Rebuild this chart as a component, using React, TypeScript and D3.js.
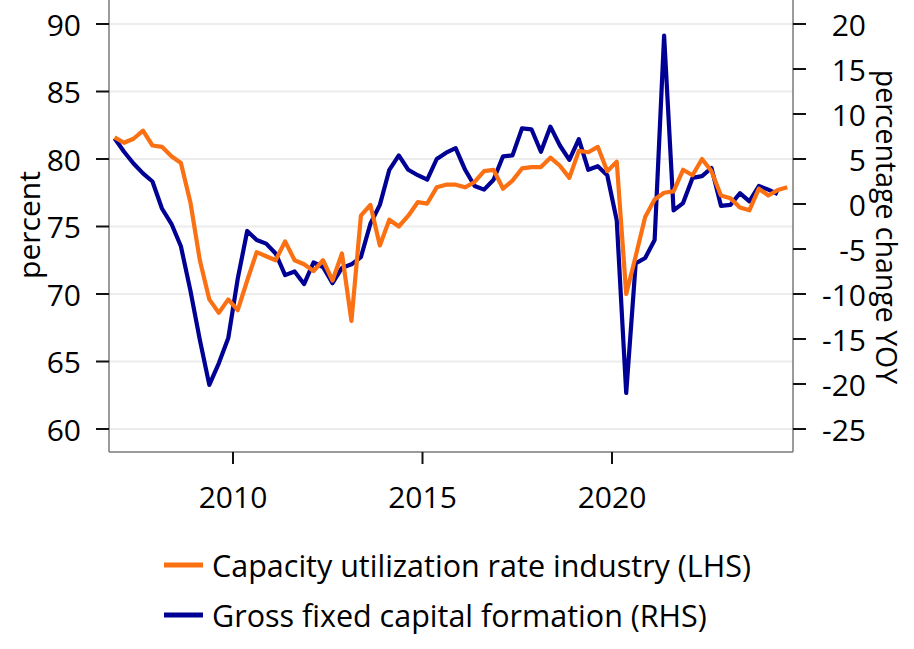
import React from 'react';
import * as d3 from 'd3';

// Quarterly categories 2006Q4 .. 2024Q3
const quarters: string[] = (() => {
  const q: string[] = [];
  let y = 2006;
  let k = 4;
  while (q.length < 72) {
    q.push(`${y}Q${k}`);
    k++;
    if (k > 4) { k = 1; y++; }
  }
  return q;
})();

// Capacity utilization rate industry (LHS, percent)
const capacityUtilization: number[] = [
  81.6, 81.2, 81.5, 82.1, 81.0, 80.9, 80.2, 79.7, 76.8, 72.5,
  69.6, 68.6, 69.6, 68.8, 71.0, 73.1, 72.8, 72.5, 73.9, 72.5,
  72.2, 71.7, 72.5, 71.0, 73.0, 68.0, 75.8, 76.6, 73.6, 75.5,
  75.0, 75.8, 76.8, 76.7, 77.9, 78.1, 78.1, 77.9, 78.3, 79.1,
  79.2, 77.8, 78.4, 79.3, 79.4, 79.4, 80.1, 79.5, 78.6, 80.6,
  80.5, 80.9, 79.1, 79.8, 70.0, 72.8, 75.7, 77.0, 77.5, 77.6,
  79.2, 78.8, 80.0, 79.1, 77.3, 77.1, 76.4, 76.2, 77.8, 77.3,
  77.7, 77.9,
];

// Gross fixed capital formation (RHS, % change YOY)
const capitalFormation: number[] = [
  7.3, 5.8, 4.5, 3.4, 2.5, -0.5, -2.2, -4.7, -9.6, -15.1,
  -20.1, -17.7, -14.9, -8.3, -3.0, -4.0, -4.4, -5.5, -7.9, -7.5,
  -8.9, -6.5, -7.0, -8.8, -7.1, -6.7, -5.9, -2.2, -0.1, 3.8,
  5.4, 3.8, 3.2, 2.7, 5.0, 5.7, 6.2, 3.8, 2.0, 1.6,
  2.7, 5.3, 5.4, 8.4, 8.3, 5.8, 8.6, 6.5, 4.9, 7.2,
  3.8, 4.2, 3.2, -1.8, -21.0, -6.6, -6.0, -4.0, 18.7, -0.7,
  0.1, 2.9, 3.1, 4.0, -0.2, -0.1, 1.2, 0.3, 2.0, 1.6,
  1.1,
];

const leftTicks = [60, 65, 70, 75, 80, 85, 90];
const rightTicks = [-25, -20, -15, -10, -5, 0, 5, 10, 15, 20];
const xTicks = [2010, 2015, 2020];

const seriesNames = [
  'Capacity utilization rate industry (LHS)',
  'Gross fixed capital formation (RHS)',
];
const seriesColors = ['#fb7012', '#000094'];

const FONT = "'Open Sans', 'Noto Sans', sans-serif";

function quarterToYear(q: string): number {
  const y = +q.slice(0, 4);
  const k = +q.slice(5);
  return y + (k - 1) * 0.25 + 0.125;
}

export default function App() {
  const W = 914;
  const H = 649;
  const left = 109;
  const right = 793;
  const top = 0;
  const bottom = 452;

  const x = d3.scaleLinear().domain([2006.728, 2024.776]).range([left, right]);
  const yL = d3.scaleLinear().domain([60, 90]).range([429, 24]);
  const yR = d3.scaleLinear().domain([-25, 20]).range([429, 24]);

  const lineL = d3
    .line<number>()
    .x((_, i) => x(quarterToYear(quarters[i])))
    .y((d) => yL(d));
  const lineR = d3
    .line<number>()
    .x((_, i) => x(quarterToYear(quarters[i])))
    .y((d) => yR(d));

  const fs = 30;

  return (
    <svg
      width={W}
      height={H}
      style={{ position: 'absolute', left: 0, top: 0, background: '#fff' }}
      fontFamily={FONT}
    >
      <rect x={0} y={0} width={W} height={H} fill="#fff" />
      {leftTicks.map((t) => (
        <line key={'g' + t} x1={left} x2={right} y1={yL(t)} y2={yL(t)} stroke="#ececec" strokeWidth={2} />
      ))}

      <path d={lineR(capitalFormation) || ''} fill="none" stroke={seriesColors[1]} strokeWidth={4.2} strokeLinejoin="round" />
      <path d={lineL(capacityUtilization) || ''} fill="none" stroke={seriesColors[0]} strokeWidth={4.2} strokeLinejoin="round" />

      {/* axes */}
      <line x1={left} x2={left} y1={top} y2={bottom} stroke="#7a7a7a" strokeWidth={1.5} />
      <line x1={right} x2={right} y1={top} y2={bottom} stroke="#7a7a7a" strokeWidth={1.5} />
      <line x1={left} x2={right} y1={bottom} y2={bottom} stroke="#7a7a7a" strokeWidth={1.5} />

      {leftTicks.map((t) => (
        <g key={'l' + t}>
          <line x1={left - 13} x2={left} y1={yL(t)} y2={yL(t)} stroke="#111" strokeWidth={2} />
          <text x={81} y={yL(t)} textAnchor="end" dominantBaseline="central" fontSize={fs} fill="#000">
            {t}
          </text>
        </g>
      ))}
      {rightTicks.map((t) => (
        <g key={'r' + t}>
          <line x1={right} x2={right + 13} y1={yR(t)} y2={yR(t)} stroke="#111" strokeWidth={2} />
          <text x={866} y={yR(t)} textAnchor="end" dominantBaseline="central" fontSize={fs} fill="#000">
            {t}
          </text>
        </g>
      ))}
      {xTicks.map((t) => (
        <g key={'x' + t}>
          <line x1={x(t)} x2={x(t)} y1={bottom} y2={bottom + 12} stroke="#111" strokeWidth={2} />
          <text x={x(t)} y={496} textAnchor="middle" dominantBaseline="central" fontSize={fs} fill="#000">
            {t}
          </text>
        </g>
      ))}

      <text transform="translate(28,225) rotate(-90)" textAnchor="middle" dominantBaseline="central" fontSize={fs} fill="#000">
        percent
      </text>
      <text transform="translate(887,227) rotate(90)" textAnchor="middle" dominantBaseline="central" fontSize={28.5} fill="#000">
        percentage change YOY
      </text>

      {seriesNames.map((n, i) => (
        <g key={n}>
          <line x1={164} x2={203} y1={565 + i * 50} y2={565 + i * 50} stroke={seriesColors[i]} strokeWidth={5} />
          <text x={212} y={565 + i * 50} dominantBaseline="central" fontSize={30.5} fill="#000">
            {n}
          </text>
        </g>
      ))}
    </svg>
  );
}
